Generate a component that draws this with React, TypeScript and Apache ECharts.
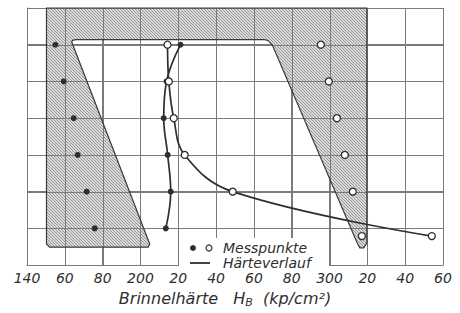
import React, { useEffect, useRef } from "react";
import * as echarts from "echarts";

// x tick values run 140..360 (step 20); labels as printed on the original
const xTickLabels = ["140", "60", "80", "200", "20", "40", "60", "80", "300", "20", "40", "60"];
const X_MIN = 140;
const X_STEP = 20;
const Y_ROWS = 7;

// measuring rows (depth positions) — dimensionless row index
const rowsA = [6, 5, 4, 3, 2, 1];
const rowsB = [6, 5, 4, 3, 2, 0.79];

// surface hardness points (filled = left side, open = right side)
const leftSurfaceHB = [155.0, 159.4, 164.7, 166.8, 171.6, 175.8];
const rightSurfaceHB = [295.4, 299.6, 303.9, 308.1, 312.3, 317.1];

// hardness course through the section
const coreFilledHB = [221.2, 213.8, 212.3, 214.4, 216.0, 213.4];
const coreOpenHB = [214.3, 215.0, 217.6, 223.4, 248.8, 354.1];

// hatched zone outline [HB, row]
const shadeOutline: number[][] = [
  [150.3, 7.0], [319.7, 7.0], [319.7, 0.6], [318.1, 0.47], [316.0, 0.47], [314.4, 0.63],
  [269.7, 6.0], [267.6, 6.11], [265.8, 6.14], [165.8, 6.14], [164.2, 6.12], [163.6, 6.08],
  [204.9, 0.574], [204.1, 0.487], [152.0, 0.487], [150.3, 0.574],
];

const FONT = "DejaVu Sans";
const INK = "#2e2e2e";
const GRIDC = "#7a7a7a";

function makeHatch() {
  const c = document.createElement("canvas");
  c.width = 3;
  c.height = 3;
  const ctx = c.getContext("2d")!;
  ctx.fillStyle = "#dadada";
  ctx.fillRect(0, 0, 3, 3);
  ctx.fillStyle = "#979797";
  for (let i = 0; i < 3; i++) ctx.fillRect(i, i, 1, 1);
  return { image: c, repeat: "repeat", imageWidth: 3, imageHeight: 3 } as any;
}

export default function App() {
  const ref = useRef<HTMLDivElement>(null);
  useEffect(() => {
    if (!ref.current) return;
    const chart = echarts.init(ref.current, undefined, { renderer: "svg" });
    const hatch = makeHatch();
    const pair = (xs: number[], ys: number[]) => xs.map((x, i) => [x, ys[i]]);
    const xTicks = xTickLabels.map((_, i) => X_MIN + i * X_STEP);
    const xMax = xTicks[xTicks.length - 1];
    const yTicks = Array.from({ length: Y_ROWS + 1 }, (_, i) => i);
    chart.setOption({
      animation: false,
      backgroundColor: "#ffffff",
      grid: { left: 27, top: 8, width: 416, height: 265, containLabel: false },
      xAxis: {
        type: "value",
        min: X_MIN,
        max: xMax,
        interval: X_STEP,
        axisLine: { show: true, lineStyle: { color: "#6e6e6e", width: 1 } },
        axisTick: { show: false },
        splitLine: { show: true, lineStyle: { color: GRIDC, width: 1 } },
        axisLabel: {
          margin: 6,
          showMinLabel: true,
          showMaxLabel: true,
          fontFamily: FONT,
          fontStyle: "italic",
          fontSize: 14,
          color: INK,
          formatter: (v: number) => xTickLabels[Math.round((v - X_MIN) / X_STEP)] ?? "",
        },
        name: "{a|Brinnelhärte   H}{s|B}{a|  (kp/cm²)}",
        nameLocation: "middle",
        nameGap: 17,
        nameTextStyle: {
          padding: [0, 20, 0, 0],
          rich: {
            a: { fontFamily: FONT, fontStyle: "italic", fontSize: 16, color: INK, lineHeight: 20 },
            s: { fontFamily: FONT, fontStyle: "italic", fontSize: 11, color: INK, lineHeight: 10, verticalAlign: "bottom" },
          },
        },
      },
      yAxis: {
        type: "value",
        min: 0,
        max: Y_ROWS,
        interval: 1,
        axisLine: { show: true, lineStyle: { color: "#6e6e6e", width: 1 } },
        axisTick: { show: false },
        axisLabel: { show: false },
        splitLine: { show: true, lineStyle: { color: GRIDC, width: 1 } },
      },
      series: [
        {
          type: "custom",
          name: "zone",
          z: 1,
          silent: true,
          data: [[X_MIN, 0]],
          renderItem: (_p: any, api: any) => {
            const children: any[] = [
              {
                type: "polygon",
                shape: { points: shadeOutline.map((p) => api.coord(p)) },
                style: { fill: hatch, stroke: "none" },
              },
            ];
            // grid lines stay visible through the hatching
            xTicks.forEach((x) => {
              const a = api.coord([x, 0]);
              const b = api.coord([x, Y_ROWS]);
              children.push({
                type: "line",
                shape: { x1: Math.round(a[0]) + 0.5, y1: a[1], x2: Math.round(b[0]) + 0.5, y2: b[1] },
                style: { stroke: GRIDC, lineWidth: 1 },
              });
            });
            yTicks.forEach((y) => {
              const a = api.coord([X_MIN, y]);
              const b = api.coord([xMax, y]);
              children.push({
                type: "line",
                shape: { x1: a[0], y1: Math.round(a[1]) + 0.5, x2: b[0], y2: Math.round(b[1]) + 0.5 },
                style: { stroke: GRIDC, lineWidth: 1 },
              });
            });
            children.push({
              type: "polygon",
              shape: { points: shadeOutline.map((p) => api.coord(p)) },
              style: { fill: "none", stroke: "#3a3a3a", lineWidth: 1.2 },
            });
            return { type: "group", children };
          },
        },
        {
          type: "line",
          name: "Härteverlauf A",
          z: 3,
          smooth: 0.4,
          data: pair(coreFilledHB, rowsA),
          symbol: "circle",
          symbolSize: 6,
          lineStyle: { color: INK, width: 1.7 },
          itemStyle: { color: INK, borderWidth: 0 },
        },
        {
          type: "line",
          name: "Härteverlauf B",
          z: 3,
          smooth: 0.4,
          data: pair(coreOpenHB, rowsB),
          symbol: "circle",
          symbolSize: 7,
          showAllSymbol: true,
          lineStyle: { color: INK, width: 1.7 },
          itemStyle: { color: "#ffffff", borderColor: INK, borderWidth: 1.3 },
        },
        {
          type: "scatter",
          name: "Messpunkte A",
          z: 4,
          data: pair(leftSurfaceHB, rowsA),
          symbol: "circle",
          symbolSize: 6,
          itemStyle: { color: INK, opacity: 1 },
        },
        {
          type: "scatter",
          name: "Messpunkte B",
          z: 4,
          data: pair(rightSurfaceHB, rowsB),
          symbol: "circle",
          symbolSize: 7,
          itemStyle: { color: "#ffffff", borderColor: INK, borderWidth: 1.3, opacity: 1 },
        },
      ],
      graphic: [
        {
          type: "group",
          left: 179,
          top: 238,
          z: 50,
          children: [
            { type: "rect", shape: { x: 0, y: 0, width: 150, height: 33 }, style: { fill: "#ffffff" }, z: 50 },
            { type: "circle", shape: { cx: 14, cy: 10, r: 3 }, style: { fill: INK }, z: 51 },
            { type: "circle", shape: { cx: 30, cy: 10, r: 3 }, style: { fill: "#fff", stroke: INK, lineWidth: 1.2 }, z: 51 },
            {
              type: "text",
              x: 44,
              y: 10,
              z: 51,
              style: { text: "Messpunkte", fontFamily: FONT, fontStyle: "italic", fontSize: 14, fill: INK, verticalAlign: "middle" },
            },
            { type: "line", shape: { x1: 11, y1: 25, x2: 31, y2: 25 }, style: { stroke: INK, lineWidth: 1.8 }, z: 51 },
            {
              type: "text",
              x: 44,
              y: 25,
              z: 51,
              style: { text: "Härteverlauf", fontFamily: FONT, fontStyle: "italic", fontSize: 14, fill: INK, verticalAlign: "middle" },
            },
          ],
        },
      ],
    });
    return () => chart.dispose();
  }, []);
  return <div ref={ref} style={{ position: "fixed", left: 0, top: 0, width: 460, height: 313 }} />;
}
